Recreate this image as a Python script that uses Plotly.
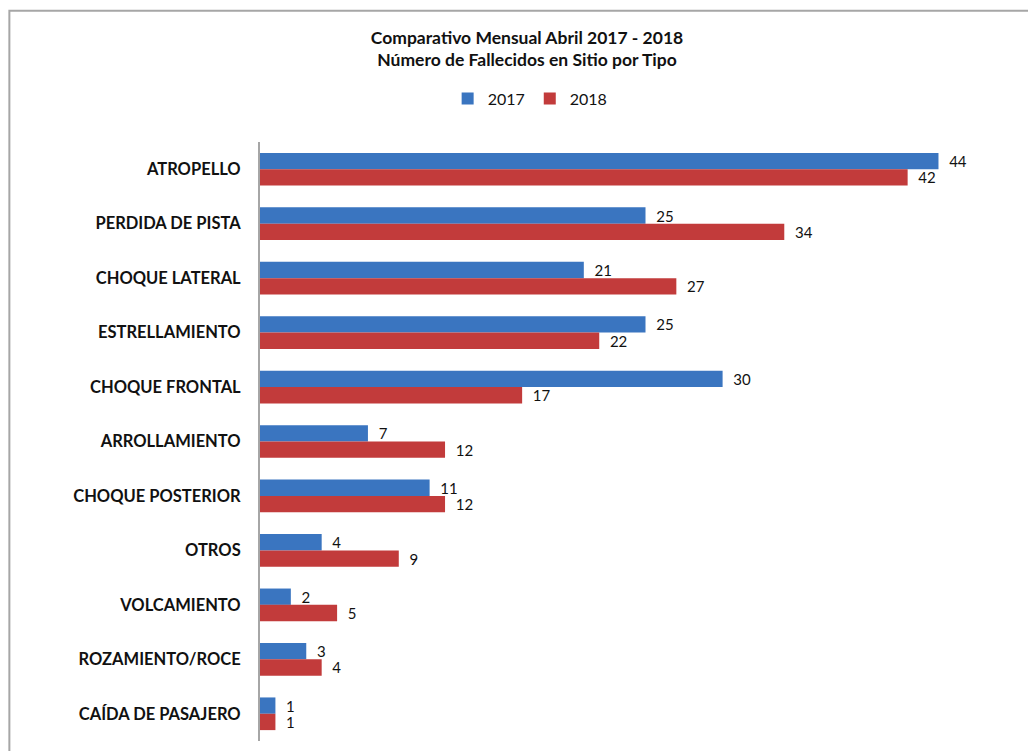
import plotly.graph_objects as go

categories = ["ATROPELLO", "PERDIDA DE PISTA", "CHOQUE LATERAL", "ESTRELLAMIENTO",
              "CHOQUE FRONTAL", "ARROLLAMIENTO", "CHOQUE POSTERIOR", "OTROS",
              "VOLCAMIENTO", "ROZAMIENTO/ROCE", "CAÍDA DE PASAJERO"]
values_2017 = [44, 25, 21, 25, 30, 7, 11, 4, 2, 3, 1]
values_2018 = [42, 34, 27, 22, 17, 12, 12, 9, 5, 4, 1]
series_names = ["2017", "2018"]

OFF = 8  # page body margin
W, H = 1036 - OFF, 751 - OFF
L, R_PX = 260 - OFF, 1030.6 - OFF
T, B_PX = 141.5 - OFF, 741.5 - OFF
pw, ph = R_PX - L, B_PX - T

FONT = "Lato, 'Open Sans', sans-serif"

fig = go.Figure()
for name, vals, col in [(series_names[0], values_2017, "#3a75c0"),
                        (series_names[1], values_2018, "#c23b3b")]:
    fig.add_trace(go.Bar(
        y=categories, x=vals, orientation="h", name=name,
        marker=dict(color=col, line=dict(width=0)),
        text=["  " + str(v) for v in vals], textposition="outside",
        textfont=dict(size=15, color="#111111", family=FONT),
        constraintext="none",
        cliponaxis=False,
    ))

fig.update_layout(
    width=W, height=H,
    margin=dict(l=L, r=W - R_PX, t=T, b=H - B_PX, pad=0),
    paper_bgcolor="white", plot_bgcolor="white",
    barmode="group", bargap=0.4, bargroupgap=0.0,
    font=dict(family=FONT, color="#111111"),
    title=dict(
        text="<b>Comparativo Mensual Abril 2017 - 2018</b><br><b>Número de Fallecidos en Sitio por Tipo</b>",
        x=(527 - OFF) / W, xanchor="center", y=1 - (43.5 - OFF) / H, yanchor="middle",
        font=dict(size=17.5, family=FONT, color="#111111"),
    ),
    legend=dict(
        orientation="h", x=(530 - L - OFF) / pw, xanchor="center",
        y=1 + (T - (98 - OFF)) / ph, yanchor="middle",
        font=dict(size=16, family=FONT, color="#111111"),
        itemwidth=30, traceorder="normal", bgcolor="rgba(0,0,0,0)",
    ),
    xaxis=dict(range=[0, 50], visible=False, showgrid=False, zeroline=False),
    yaxis=dict(
        autorange="reversed", showgrid=False, zeroline=False,
        showline=True, linecolor="#a6a6a6", linewidth=2,
        ticks="", ticklabelstandoff=14,
        tickfont=dict(size=16.5, family=FONT, color="#111111", weight="bold"),
    ),
    showlegend=True,
)

fig.add_shape(
    type="rect", xref="paper", yref="paper", layer="below",
    x0=(1.5 - L) / pw, x1=1.2, y0=-0.2, y1=1 + (T - (10 - OFF)) / ph,
    line=dict(color="#a6a6a6", width=2), fillcolor="rgba(0,0,0,0)",
)

fig.write_html("out.html")
